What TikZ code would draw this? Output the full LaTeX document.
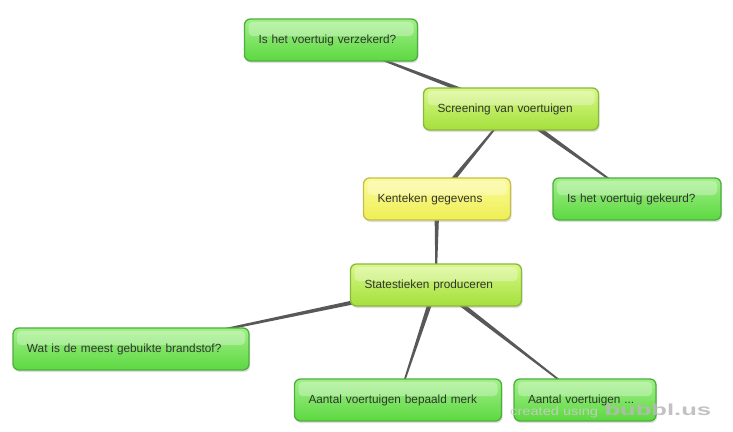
\documentclass[tikz,border=0pt]{standalone}
\usepackage{fontspec}
\usepackage{graphicx}
\setmainfont{Liberation Sans}
\usetikzlibrary{calc,shadows}
\pgfdeclarelayer{bg}
\pgfsetlayers{bg,main}
\definecolor{gtop}{HTML}{A2F08A}
\definecolor{gbot}{HTML}{5CD840}
\definecolor{gbrd}{HTML}{4CAF3C}
\definecolor{ytop}{HTML}{D8F888}
\definecolor{ybot}{HTML}{A4E03C}
\definecolor{ybrd}{HTML}{8AB83C}
\definecolor{ktop}{HTML}{FBFB9A}
\definecolor{kbot}{HTML}{EEEE55}
\definecolor{kbrd}{HTML}{C4BE48}
\definecolor{txt}{HTML}{333333}
\definecolor{linec}{HTML}{585858}
\newcommand\taperline[2]{%
  \fill[linec] ($(#1.center)!2.6pt!90:(#2.center)$) -- ($(#2.center)!0.5pt!-90:(#1.center)$)
    -- ($(#2.center)!0.5pt!90:(#1.center)$) -- ($(#1.center)!2.6pt!-90:(#2.center)$) -- cycle;}
\begin{document}
\begin{tikzpicture}[x=1pt,y=-1pt,
  bubble/.style={rounded corners=6pt, line width=1.3pt, minimum height=42pt,
    inner xsep=14pt, align=left, text=txt, font=\fontsize{11.8}{14}\selectfont,
    drop shadow={opacity=0.25, shadow xshift=1pt, shadow yshift=-2pt},
    path picture={\fill[white,opacity=0.3,rounded corners=4pt]
      ($(path picture bounding box.north west)+(4,3)$) rectangle
      ($(path picture bounding box.north east)+(-4,17)$);}},
  gbox/.style={bubble, draw=gbrd, top color=gtop, bottom color=gbot},
  ybox/.style={bubble, draw=ybrd, top color=ytop, bottom color=ybot},
  kbox/.style={bubble, draw=kbrd, top color=ktop, bottom color=kbot}]
\useasboundingbox (0,0) rectangle (733,431);
\node[gbox, text width=145pt] (ver) at (331,40) {Is het voertuig verzekerd?};
\node[ybox, text width=147pt] (scr) at (511,109) {Screening van voertuigen};
\node[kbox, text width=119pt] (ken) at (437,199) {Kenteken gegevens};
\node[gbox, text width=140pt] (gek) at (637,199) {Is het voertuig gekeurd?};
\node[ybox, text width=143pt] (sta) at (436,285) {Statestieken produceren};
\node[gbox, text width=208pt] (wat) at (131,349) {Wat is de meest gebuikte brandstof?};
\node[gbox, text width=179pt] (mer) at (398,400) {Aantal voertuigen bepaald merk};
\node[gbox, text width=114pt] (aan) at (585,400) {Aantal voertuigen ...};
\begin{pgfonlayer}{bg}
\fill[white] (0,0) rectangle (733,431);
\taperline{scr}{ver}
\taperline{ken}{scr}
\taperline{scr}{gek}
\taperline{ken}{sta}
\taperline{sta}{wat}
\taperline{sta}{mer}
\taperline{sta}{aan}
\end{pgfonlayer}
\node[anchor=base west, inner sep=0pt, text=black!20, opacity=0.85, font=\fontsize{12}{14}\selectfont] (wm1) at (510,415) {\scalebox{1.22}[1]{created using}};
\node[anchor=base west, inner sep=0pt, text=black!28, opacity=0.85, font=\fontsize{16}{18}\bfseries] (wm2) at ([xshift=6pt]wm1.base east) {\scalebox{1.6}[1]{bubbl.us}};
\end{tikzpicture}
\end{document}
